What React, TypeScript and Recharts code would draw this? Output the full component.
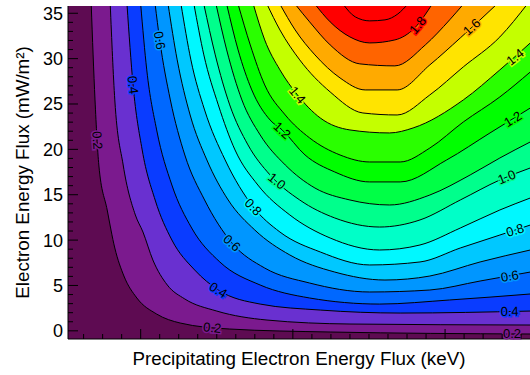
import React from 'react';
import { ComposedChart, Area, XAxis, YAxis, CartesianGrid, ReferenceDot } from 'recharts';

const FONT = 'Liberation Sans, Arial, Helvetica, sans-serif';

// axis ranges (x has no printed values, taken as keV)
const X_MIN = 1.045;
const X_MAX = 7.116;
const Y_MIN = -0.9;
const Y_MAX = 35.8;

const Y_TICKS_MAJOR = [0, 5, 10, 15, 20, 25, 30, 35];
const Y_TICKS_ALL = Array.from({ length: 36 }, (_, i) => i);
const X_TICKS_MAJOR = [2, 4, 6];
const X_TICKS_ALL = Array.from({ length: 24 }, (_, i) => 1.25 + i * 0.25);

// contour levels and the colour of the band just above each one
const LEVELS = [0.2, 0.3, 0.4, 0.5, 0.6, 0.7, 0.8, 0.9, 1.0, 1.1, 1.2, 1.3, 1.4, 1.5, 1.6, 1.7, 1.8, 1.9];
const BG_COLOR = '#5e0b52';
const BAND_COLORS = [
  '#7b1a8e', '#6930d0', '#0a3cff', '#0068ff', '#0096ff', '#00c8ff', '#00f8ff', '#00ffc8', '#00ff8c',
  '#00ff46', '#00ff00', '#2aff00', '#c4ff00', '#ffe400', '#ffaa00', '#ff6400', '#ff0000', '#ff0000',
];

// contour lines, [energy, flux]
const C02 = [[1.35, 36], [1.40, 25.45], [1.45, 18.28], [1.56, 13.32], [1.66, 9.13], [1.78, 6.04], [1.95, 3.62], [2.21, 1.85], [2.52, 0.86], [3.17, 0.2], [4.49, -0.13], [7.12, -0.35]];
const C03 = [[1.60, 36], [1.66, 25.45], [1.77, 18.28], [1.93, 12.77], [2.03, 10.89], [2.16, 7.81], [2.35, 5.05], [2.58, 3.51], [3.00, 2.18], [3.66, 1.19], [4.75, 0.75], [7.12, 0.64]];
const C04 = [[1.82, 36], [1.90, 27.10], [2.02, 19.93], [2.19, 14.42], [2.41, 10.01], [2.71, 6.70], [3.02, 4.50], [3.57, 2.95], [4.36, 2.29], [5.41, 1.96], [7.12, 2.18]];
const C05 = [[2.00, 36], [2.08, 28.76], [2.21, 22.14], [2.41, 16.07], [2.67, 11.33], [3.04, 7.59], [3.57, 5.05], [4.22, 3.62], [5.14, 2.95], [6.06, 3.40], [7.12, 4.06]];
const C06 = [[2.19, 36], [2.25, 32.06], [2.39, 25.45], [2.58, 19.38], [2.84, 14.42], [3.20, 9.68], [3.63, 6.92], [4.22, 5.27], [5.01, 4.28], [5.80, 4.50], [6.46, 5.49], [7.12, 6.48]];
const C07 = [[2.36, 36], [2.48, 29.86], [2.65, 23.79], [2.87, 18.83], [3.15, 14.42], [3.50, 11.11], [3.96, 8.36], [4.55, 6.48], [5.21, 5.60], [5.80, 6.04], [6.46, 7.59], [7.12, 8.91]];
const C08 = [[2.53, 36], [2.66, 29.86], [2.84, 24.34], [3.11, 18.83], [3.48, 13.65], [3.83, 10.89], [4.36, 8.69], [5.01, 7.26], [5.67, 7.59], [6.20, 9.13], [6.72, 10.56], [7.12, 11.66]];
const C09 = [[2.70, 36], [2.83, 30.41], [3.02, 24.90], [3.24, 19.93], [3.54, 16.07], [3.96, 12.77], [4.49, 10.23], [5.14, 8.91], [5.67, 9.46], [6.20, 11.33], [6.72, 13.32], [7.12, 14.64]];
const C10 = [[2.83, 36], [2.98, 30.41], [3.17, 24.90], [3.41, 20.49], [3.70, 17.18], [4.09, 14.42], [4.55, 12.44], [5.14, 11.44], [5.67, 12.22], [6.20, 14.42], [6.72, 16.63], [7.12, 17.95]];
const C11 = [[2.99, 36], [3.13, 30.96], [3.33, 25.45], [3.57, 21.59], [3.90, 18.28], [4.29, 15.74], [4.75, 14.42], [5.27, 13.87], [5.80, 14.97], [6.33, 17.18], [6.72, 19.05], [7.12, 20.82]];
const C12 = [[3.13, 36], [3.28, 30.96], [3.46, 26.55], [3.70, 23.24], [3.86, 22.14], [4.16, 19.38], [4.55, 17.51], [5.01, 16.41], [5.41, 16.41], [6.02, 18.83], [6.59, 21.81], [7.12, 24.56]];
const C13 = [[3.28, 36], [3.44, 31.51], [3.63, 27.10], [3.90, 23.79], [4.22, 21.26], [4.62, 19.38], [5.01, 18.61], [5.41, 18.61], [5.80, 20.15], [6.24, 23.02], [6.72, 25.78], [7.12, 28.53]];
const C14 = [[3.48, 36], [3.63, 32.06], [3.83, 28.76], [4.06, 26.00], [4.36, 23.46], [4.75, 22.14], [5.27, 21.81], [5.58, 22.36], [6.24, 25.45], [6.72, 28.76], [7.12, 31.73]];
const C15 = [[3.66, 36], [3.83, 33.16], [4.09, 29.86], [4.49, 26.33], [4.92, 24.01], [5.37, 23.79], [5.80, 26.00], [6.24, 29.09], [6.72, 32.39], [7.08, 36]];
const C16 = [[3.83, 36], [4.03, 33.16], [4.29, 30.41], [4.62, 27.87], [4.95, 26.55], [5.37, 26.55], [5.80, 29.31], [6.20, 32.28], [6.46, 34.27], [6.68, 36]];
const C17 = [[4.03, 36], [4.22, 34.05], [4.49, 31.51], [4.88, 29.42], [5.34, 29.20], [5.74, 31.51], [6.06, 34.27], [6.24, 36]];
const C18 = [[4.29, 36], [4.49, 34.05], [4.75, 32.39], [5.01, 31.73], [5.34, 32.06], [5.60, 33.38], [5.83, 36]];
const C19 = [[4.66, 36], [4.82, 34.60], [5.01, 34.16], [5.21, 34.27], [5.38, 34.93], [5.51, 36]];

const CONTOURS = [C02, C03, C04, C05, C06, C07, C08, C09, C10, C11, C12, C13, C14, C15, C16, C17, C18, C19];

// inline contour labels: text, position, rotation, level index
const LABELS = [
  { t: '0.2', x: 1.43, y: 21.0, a: 86, i: 0 },
  { t: '0.4', x: 1.90, y: 27.1, a: 83, i: 2 },
  { t: '0.6', x: 2.25, y: 32.0, a: 80, i: 4 },
  { t: '1.4', x: 4.06, y: 26.0, a: 50, i: 12 },
  { t: '1.2', x: 3.86, y: 22.1, a: 42, i: 10 },
  { t: '1.0', x: 3.79, y: 16.5, a: 38, i: 8 },
  { t: '0.8', x: 3.48, y: 13.65, a: 45, i: 6 },
  { t: '0.6', x: 3.20, y: 9.68, a: 42, i: 4 },
  { t: '0.4', x: 3.02, y: 4.5, a: 32, i: 2 },
  { t: '0.2', x: 2.94, y: 0.35, a: 6, i: 0 },
  { t: '1.8', x: 5.64, y: 33.7, a: -50, i: 16 },
  { t: '1.6', x: 6.35, y: 33.5, a: -42, i: 14 },
  { t: '1.4', x: 6.92, y: 30.2, a: -38, i: 12 },
  { t: '1.2', x: 6.89, y: 23.35, a: -32, i: 10 },
  { t: '1.0', x: 6.81, y: 16.96, a: -22, i: 8 },
  { t: '0.8', x: 6.92, y: 11.1, a: -17, i: 6 },
  { t: '0.6', x: 6.85, y: 6.04, a: -10, i: 4 },
  { t: '0.4', x: 6.85, y: 2.15, a: -1, i: 2 },
  { t: '0.2', x: 6.88, y: -0.33, a: 0, i: 0 },
];

const rows = CONTOURS.flatMap((pts, i) => pts.map(([x, y]) => ({ x, ['c' + i]: y }))).sort((a, b) => a.x - b.x);

function YTick(props: any) {
  const { x, y, payload } = props;
  const major = Y_TICKS_MAJOR.includes(payload.value);
  return (
    <g>
      <line x1={x} x2={x + (major ? 10 : 5)} y1={y} y2={y} stroke="#000" />
      {major && (
        <text x={x - 5} y={y} dy="0.36em" textAnchor="end" fontSize={18} fontFamily={FONT} fill="#000">
          {payload.value}
        </text>
      )}
    </g>
  );
}

function XTick(props: any) {
  const { x, y, payload, dir } = props;
  const len = X_TICKS_MAJOR.includes(payload.value) ? 10 : 5;
  return <line x1={x} x2={x} y1={y} y2={y + dir * len} stroke="#000" />;
}

function ContourLabel(props: any) {
  const { cx, cy, text, angle, halo } = props;
  return (
    <text
      x={cx}
      y={cy}
      dy="0.35em"
      textAnchor="middle"
      transform={`rotate(${angle} ${cx} ${cy})`}
      fontSize={13}
      fontFamily={FONT}
      fill="#000"
      stroke={halo}
      strokeWidth={3}
      paintOrder="stroke"
    >
      {text}
    </text>
  );
}

export default function App() {
  return (
    <div style={{ position: 'absolute', left: 0, top: 0, width: 530, height: 375, background: '#fff' }}>
      <ComposedChart width={530} height={375} data={rows} margin={{ top: 6, right: 0, bottom: 0, left: 0 }}>
        <CartesianGrid fill={BG_COLOR} fillOpacity={1} horizontal={false} vertical={false} stroke="none" />
        <XAxis
          dataKey="x"
          type="number"
          domain={[X_MIN, X_MAX]}
          allowDataOverflow
          ticks={X_TICKS_ALL}
          interval={0}
          tickSize={0}
          tickMargin={0}
          tickLine={false}
          tick={<XTick dir={-1} />}
          height={36}
          axisLine={{ stroke: '#000' }}
          label={{
            content: (p: any) => {
              const vb = p.viewBox || { x: 68, y: 339, width: 462, height: 36 };
              return (
                <text x={vb.x + vb.width / 2} y={vb.y + 26} textAnchor="middle" fontSize={18.8} fontFamily={FONT} fill="#000">
                  Precipitating Electron Energy Flux (keV)
                </text>
              );
            },
          }}
        />
        <XAxis
          xAxisId="top"
          orientation="top"
          type="number"
          domain={[X_MIN, X_MAX]}
          allowDataOverflow
          ticks={X_TICKS_ALL}
          interval={0}
          tickSize={0}
          tickMargin={0}
          tickLine={false}
          tick={<XTick dir={1} />}
          height={0}
          axisLine={{ stroke: '#777' }}
        />
        <YAxis
          type="number"
          domain={[Y_MIN, Y_MAX]}
          allowDataOverflow
          ticks={Y_TICKS_ALL}
          interval={0}
          tickSize={0}
          tickMargin={0}
          tickLine={false}
          tick={<YTick />}
          width={68}
          axisLine={{ stroke: '#000' }}
          label={{
            content: (p: any) => {
              const vb = p.viewBox || { x: 0, y: 6, width: 68, height: 333 };
              const cx = vb.x + 22;
              const cy = vb.y + vb.height / 2;
              return (
                <text x={cx} y={cy} dy="0.36em" textAnchor="middle" transform={`rotate(-90 ${cx} ${cy})`} fontSize={18.8} fontFamily={FONT} fill="#000">
                  Electron Energy Flux (mW/m²)
                </text>
              );
            },
          }}
        />
        {CONTOURS.map((_, i) => (
          <Area
            key={'c' + i}
            dataKey={'c' + i}
            name={String(LEVELS[i])}
            type="monotone"
            baseValue={Y_MAX}
            fill={BAND_COLORS[i]}
            fillOpacity={1}
            stroke="#000"
            strokeWidth={1}
            connectNulls
            dot={false}
            activeDot={false}
            isAnimationActive={false}
          />
        ))}
        {LABELS.map((l, k) => (
          <ReferenceDot
            key={'l' + k}
            x={l.x}
            y={l.y}
            r={0}
            shape={(p: any) => <ContourLabel cx={p.cx} cy={p.cy} text={l.t} angle={l.a} halo={BAND_COLORS[l.i]} />}
          />
        ))}
      </ComposedChart>
    </div>
  );
}
